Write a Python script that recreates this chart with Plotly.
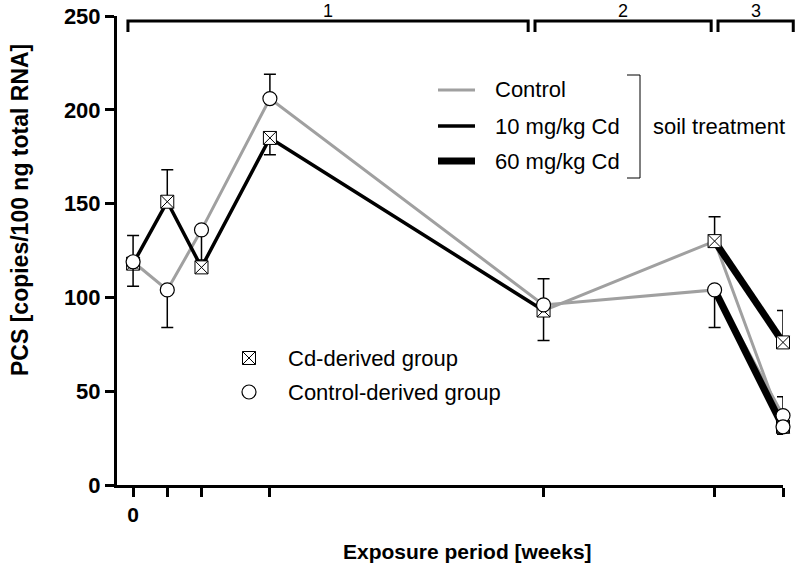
import plotly.graph_objects as go

# ---------------- data ----------------
weeks = [0, 1, 2, 4, 12, 17, 19]
week_tick_text = ["0", "", "", "", "", "", ""]

# Cd-derived group (boxed-x markers)
cd_mean = [118, 151, 116, 185, 93, 130, 76]
cd_err_up = [0, 17, 0, 0, 0, 13, 17]
cd_err_down = [0, 0, 0, 9, 16, 0, 0]

# Control-derived group (open circles)
ctrl_mean = [119, 104, 136, 206, 96, 104, 37]
ctrl_err_up = [14, 0, 0, 13, 14, 0, 10]
ctrl_err_down = [13, 20, 16, 0, 0, 20, 0]

# extra week-19 values (groups moved to another soil in period 3)
extra_weeks = [19, 19]
cd_in_control_w19 = [31]
ctrl_in_60_w19 = [31]
extra_err_down = [4, 0]

periods = [("1", -0.15, 11.55), ("2", 11.75, 16.9), ("3", 17.1, 19.3)]
yticks = [0, 50, 100, 150, 200, 250]

GRAY = "#a0a0a0"
BLACK = "#000000"
FONT = "Liberation Sans, Arial, sans-serif"

# plot area in pixels
PX0, PX1, PY0, PY1 = 117, 783, 16, 485
XMIN, XMAX = -0.47, 19.0


def px_x(px):
    return (px - PX0) / (PX1 - PX0)


def px_y(py):
    return (PY1 - py) / (PY1 - PY0)


def wk_x(w):
    return (w - XMIN) / (XMAX - XMIN)


fig = go.Figure()

# ---------- lines ----------
# control soil (gray): control-derived group whole time course
fig.add_trace(go.Scatter(x=weeks, y=ctrl_mean, mode="lines",
                         line=dict(color=GRAY, width=3), showlegend=False, hoverinfo="skip"))
# control soil (gray): Cd-derived group after week 12
fig.add_trace(go.Scatter(x=[weeks[4], weeks[5], extra_weeks[0]],
                         y=[cd_mean[4], cd_mean[5], cd_in_control_w19[0]], mode="lines",
                         line=dict(color=GRAY, width=3), showlegend=False, hoverinfo="skip"))
# 10 mg/kg Cd (thin black): Cd-derived group period 1
fig.add_trace(go.Scatter(x=weeks[:5], y=cd_mean[:5], mode="lines",
                         line=dict(color=BLACK, width=3.5), showlegend=False, hoverinfo="skip"))
# 60 mg/kg Cd (thick black): period 3
fig.add_trace(go.Scatter(x=weeks[5:7], y=cd_mean[5:7], mode="lines",
                         line=dict(color=BLACK, width=7), showlegend=False, hoverinfo="skip"))
fig.add_trace(go.Scatter(x=[weeks[5], extra_weeks[1]], y=[ctrl_mean[5], ctrl_in_60_w19[0]],
                         mode="lines", line=dict(color=BLACK, width=7),
                         showlegend=False, hoverinfo="skip"))

# ---------- markers with error bars ----------
box_marker = dict(symbol="square-x", size=13, color="white", line=dict(color=BLACK, width=1))
circ_marker = dict(symbol="circle", size=14, color="white", line=dict(color=BLACK, width=1.2))

fig.add_trace(go.Scatter(
    x=weeks + [extra_weeks[0]], y=cd_mean + cd_in_control_w19, mode="markers",
    marker=box_marker, cliponaxis=False, showlegend=False,
    error_y=dict(type="data", symmetric=False, array=cd_err_up + [0],
                 arrayminus=cd_err_down + [extra_err_down[0]],
                 color=BLACK, thickness=1.5, width=6)))
fig.add_trace(go.Scatter(
    x=weeks + [extra_weeks[1]], y=ctrl_mean + ctrl_in_60_w19, mode="markers",
    marker=circ_marker, cliponaxis=False, showlegend=False,
    error_y=dict(type="data", symmetric=False, array=ctrl_err_up + [0],
                 arrayminus=ctrl_err_down + [extra_err_down[1]],
                 color=BLACK, thickness=1.5, width=6)))

shapes = []
annotations = []

# ---------- period brackets ----------
for label, a, b in periods:
    xa, xb = wk_x(a), wk_x(b)
    ytop, ybot = px_y(21), px_y(32)
    shapes.append(dict(type="path", xref="paper", yref="paper",
                       path=f"M {xa},{ybot} L {xa},{ytop} L {xb},{ytop} L {xb},{ybot}",
                       line=dict(color=BLACK, width=3)))
    annotations.append(dict(text=label, x=(xa + xb) / 2, y=px_y(0), xref="paper", yref="paper",
                            showarrow=False, xanchor="center", yanchor="top", borderpad=0,
                            font=dict(family=FONT, size=18, color=BLACK)))

# ---------- soil treatment legend ----------
leg = [("Control", GRAY, 3, 90), ("10 mg/kg Cd", BLACK, 3.5, 126), ("60 mg/kg Cd", BLACK, 7, 161)]
for text, col, w, py in leg:
    shapes.append(dict(type="line", xref="paper", yref="paper",
                       x0=px_x(438), x1=px_x(475), y0=px_y(py), y1=px_y(py),
                       line=dict(color=col, width=w)))
    annotations.append(dict(text=text, x=px_x(493), y=px_y(py), xref="paper", yref="paper",
                            showarrow=False, xanchor="left", yanchor="middle",
                            font=dict(family=FONT, size=22, color=BLACK)))
shapes.append(dict(type="path", xref="paper", yref="paper",
                   path=(f"M {px_x(627)},{px_y(75)} L {px_x(640)},{px_y(75)} "
                         f"L {px_x(640)},{px_y(178)} L {px_x(627)},{px_y(178)}"),
                   line=dict(color=BLACK, width=1)))
annotations.append(dict(text="soil treatment", x=px_x(651), y=px_y(126), xref="paper", yref="paper",
                        showarrow=False, xanchor="left", yanchor="middle",
                        font=dict(family=FONT, size=22, color=BLACK)))

# ---------- marker legend ----------
fig.add_trace(go.Scatter(x=[px_x(249)], y=[px_y(358)], xaxis="x2", yaxis="y2", mode="markers",
                         marker=box_marker, showlegend=False, hoverinfo="skip", cliponaxis=False))
fig.add_trace(go.Scatter(x=[px_x(249)], y=[px_y(392)], xaxis="x2", yaxis="y2", mode="markers",
                         marker=circ_marker, showlegend=False, hoverinfo="skip", cliponaxis=False))
annotations.append(dict(text="Cd-derived group", x=px_x(286), y=px_y(358), xref="paper", yref="paper",
                        showarrow=False, xanchor="left", yanchor="middle",
                        font=dict(family=FONT, size=22, color=BLACK)))
annotations.append(dict(text="Control-derived group", x=px_x(286), y=px_y(392), xref="paper",
                        yref="paper", showarrow=False, xanchor="left", yanchor="middle",
                        font=dict(family=FONT, size=22, color=BLACK)))

# ---------- axis titles ----------
annotations.append(dict(text="<b>PCS [copies/100 ng total RNA]</b>", x=px_x(20), y=px_y(210),
                        xref="paper", yref="paper", showarrow=False, textangle=-90,
                        xanchor="center", yanchor="middle",
                        font=dict(family=FONT, size=23, color=BLACK)))
annotations.append(dict(text="<b>Exposure period [weeks]</b>", x=px_x(467), y=px_y(551),
                        xref="paper", yref="paper", showarrow=False,
                        xanchor="center", yanchor="middle",
                        font=dict(family=FONT, size=21, color=BLACK)))

fig.update_layout(
    width=798, height=568,
    margin=dict(l=PX0, r=798 - PX1, t=PY0, b=568 - PY1, autoexpand=False),
    plot_bgcolor="white", paper_bgcolor="white",
    showlegend=False,
    shapes=shapes, annotations=annotations,
    xaxis=dict(range=[XMIN, XMAX], tickvals=weeks, ticktext=week_tick_text, automargin=False,
               showline=True, linecolor=BLACK, linewidth=3, showgrid=False, zeroline=False,
               ticks="outside", ticklen=9, tickwidth=3, tickcolor=BLACK,
               tickfont=dict(family=FONT, size=21, color=BLACK, weight="bold")),
    yaxis=dict(range=[0, 250], tickvals=yticks, automargin=False,
               showline=True, linecolor=BLACK, linewidth=3, showgrid=False, zeroline=False,
               ticks="outside", ticklen=9, tickwidth=3, tickcolor=BLACK,
               tickfont=dict(family=FONT, size=22, color=BLACK, weight="bold")),
    xaxis2=dict(range=[0, 1], visible=False, overlaying="x", anchor="y2", automargin=False),
    yaxis2=dict(range=[0, 1], visible=False, overlaying="y", anchor="x2", automargin=False),
)

fig.write_html("out.html", config={"displayModeBar": False},
               post_script="document.body.style.margin='0';document.body.style.overflow='hidden';")
